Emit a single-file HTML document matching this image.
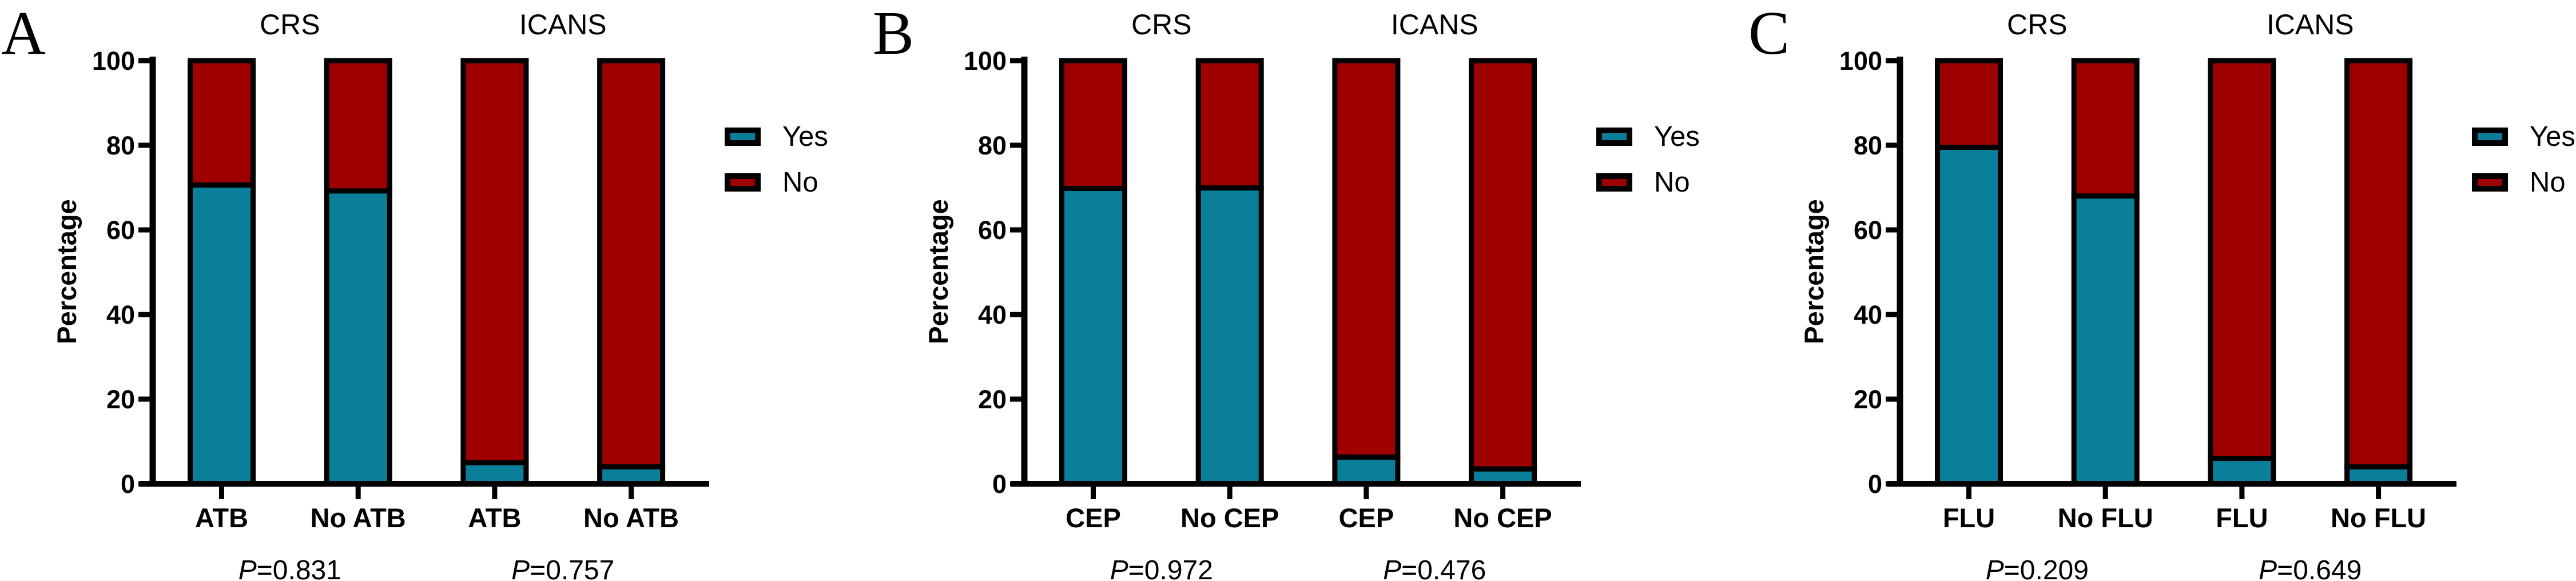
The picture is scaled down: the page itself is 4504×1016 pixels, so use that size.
<!DOCTYPE html>
<html><head><meta charset="utf-8"><style>
html,body{margin:0;padding:0;background:#fff;}
svg{display:block;font-family:"Liberation Sans",Arial,sans-serif;}
</style></head><body>
<svg id="chart" width="4504" height="1016" viewBox="0 0 4504 1016" xmlns="http://www.w3.org/2000/svg"></svg>
<script>
const panelLetters = ["A", "B", "C"];
const categoriesA = ["ATB", "No ATB", "ATB", "No ATB"];
const categoriesB = ["CEP", "No CEP", "CEP", "No CEP"];
const categoriesC = ["FLU", "No FLU", "FLU", "No FLU"];
const yesA = [70.6, 69.2, 5.0, 4.0];
const yesB = [69.8, 69.9, 6.3, 3.5];
const yesC = [79.5, 68.0, 6.0, 4.0];
const pValuesA = ["0.831", "0.757"];
const pValuesB = ["0.972", "0.476"];
const pValuesC = ["0.209", "0.649"];
const groupTitles = ["CRS", "ICANS"];
const yTicks = [0, 20, 40, 60, 80, 100];
const legendLabels = ["Yes", "No"];

const NS = "http://www.w3.org/2000/svg";
const svg = document.getElementById("chart");
const TEAL = "#0a7f99", RED = "#9e0000";
function el(tag, attrs, parent, text) {
  const e = document.createElementNS(NS, tag);
  for (const k in attrs) e.setAttribute(k, attrs[k]);
  if (text !== undefined) e.textContent = text;
  (parent || svg).appendChild(e);
  return e;
}
const Y0 = 846, Y100 = 106;
const AXX = 267;
function yScale(v) { return Y0 + (Y100 - Y0) * v / 100; }
function xScale(i) { return 387.5 + i * 238.7; }

function drawPanel(ox, letter, cats, yes, pvals, key) {
  const g = el("g", {transform: "translate(" + ox + ",0)"});
  
  
  const L = el("text", {x: 2, y: 94, "font-family": "Liberation Serif, serif", "font-size": 108}, g, letter);
  
  
  groupTitles.forEach((t, j) => {
    const tx = el("text", {x: (xScale(2*j) + xScale(2*j+1)) / 2, y: 60, "text-anchor": "middle", "font-size": 50}, g, t);
    
    
  });
  cats.forEach((c, i) => {
    const cx = xScale(i), hw = 55;
    const yv = yScale(yes[i]);
    const no = el("rect", {x: cx - hw, y: Y100, width: hw*2, height: yv - Y100, fill: RED, stroke: "#000", "stroke-width": 9}, g);
    
    
    const ys = el("rect", {x: cx - hw, y: yv, width: hw*2, height: Y0 - yv, fill: TEAL, stroke: "#000", "stroke-width": 9}, g);
    
    
    const tk = el("line", {x1: cx, x2: cx, y1: Y0, y2: 873, stroke: "#000", "stroke-width": 9}, g);
    
    
    const lb = el("text", {x: cx, y: 922, "text-anchor": "middle", "font-size": 47, "font-weight": "bold"}, g, c);
    
    
  });
  const ya = el("line", {x1: AXX, x2: AXX, y1: 99, y2: Y0 + 5, stroke: "#000", "stroke-width": 11}, g);
  
  
  const xa = el("line", {x1: 244, x2: 1240, y1: Y0, y2: Y0, stroke: "#000", "stroke-width": 10}, g);
  
  
  yTicks.forEach(v => {
    const y = yScale(v);
    const t = el("line", {x1: 242, x2: AXX, y1: y, y2: y, stroke: "#000", "stroke-width": 9}, g);
    
    
    const tl = el("text", {x: 236, y: y + 16, "text-anchor": "end", "font-size": 45, "font-weight": "bold"}, g, String(v));
    
    
  });
  const yt = el("text", {x: 0, y: 0, transform: "translate(133,475) rotate(-90)", "text-anchor": "middle", "font-size": 47, "font-weight": "bold"}, g, "Percentage");
  
  
  [TEAL, RED].forEach((col, j) => {
    const sy = 223 + j * 80;
    const sw = el("rect", {x: 1272, y: sy + 5, width: 53, height: 22, fill: col, stroke: "#000", "stroke-width": 10}, g);
    
    
    const lt = el("text", {x: 1368, y: sy + 32, "font-size": 49}, g, legendLabels[j]);
    
    
  });
  pvals.forEach((p, j) => {
    const t = el("text", {x: (xScale(2*j) + xScale(2*j+1)) / 2, y: 1013, "text-anchor": "middle", "font-size": 48}, g);
    
    
    el("tspan", {"font-style": "italic"}, t, "P");
    el("tspan", {}, t, "=" + p);
  });
}
drawPanel(0, panelLetters[0], categoriesA, yesA, pValuesA, "a");
drawPanel(1524, panelLetters[1], categoriesB, yesB, pValuesB, "b");
drawPanel(3055, panelLetters[2], categoriesC, yesC, pValuesC, "c");
</script>
</body></html>
